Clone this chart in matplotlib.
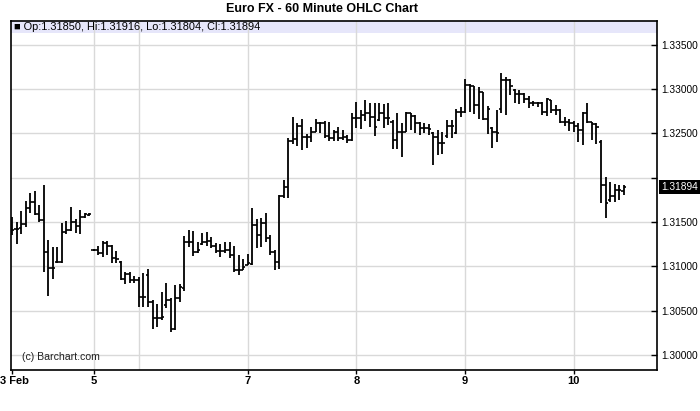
import matplotlib
matplotlib.use("Agg")
import matplotlib.pyplot as plt
from matplotlib.patches import Rectangle
from matplotlib.transforms import ScaledTranslation

plt.rcParams['font.family'] = ['Liberation Sans', 'DejaVu Sans']

title = "Euro FX - 60 Minute OHLC Chart"
header = "\u25A0 Op:1.31850, Hi:1.31916, Lo:1.31804, Cl:1.31894"
last_price = 1.31894
last_label = "1.31894"

# day boundaries, in bar index
day_labels = ["3 Feb", "5", "7", "8", "9", "10"]
day_label_bars = [0, 18, 52, 76, 100, 124]
day_grid_bars = [18, 28, 52, 76, 100, 124]

price_ticks = [1.300, 1.305, 1.310, 1.315, 1.320, 1.325, 1.330, 1.335]
price_labels = ["1.30000", "1.30500", "1.31000", "1.31500", "", "1.32500", "1.33000", "1.33500"]

# hourly bars
opens = [
    1.31421, 1.31421, 1.31432, 1.31477, 1.31658, 1.31725, 1.31590, 1.31522,
    1.31161, 1.30981, 1.31049, 1.31049, 1.31387, 1.31410, 1.31500, 1.31455,
    1.31556, 1.31579, 1.31184, 1.31184, 1.31150, 1.31263, 1.31229, 1.31094,
    1.31049, 1.30857, 1.30913, 1.30846, 1.30846, 1.30654, 1.30902, 1.30598,
    1.30417, 1.30417, 1.30564, 1.30620, 1.30293, 1.30643, 1.30755, 1.31274,
    1.31274, 1.31161, 1.31252, 1.31274, 1.31286, 1.31229, 1.31173, 1.31173,
    1.31184, 1.31128, 1.30958, 1.30958, 1.31015, 1.31026, 1.31466, 1.31353,
    1.31489, 1.31319, 1.31161, 1.31049, 1.31793, 1.31895, 1.32414, 1.32436,
    1.32583, 1.32459, 1.32459, 1.32515, 1.32617, 1.32617, 1.32470, 1.32447,
    1.32515, 1.32447, 1.32459, 1.32425, 1.32673, 1.32673, 1.32707, 1.32729,
    1.32684, 1.32650, 1.32729, 1.32673, 1.32628, 1.32425, 1.32515, 1.32515,
    1.32729, 1.32695, 1.32617, 1.32560, 1.32560, 1.32504, 1.32459, 1.32391,
    1.32470, 1.32583, 1.32504, 1.32741, 1.32741, 1.33045, 1.33034, 1.32820,
    1.32966, 1.32662, 1.32560, 1.32515, 1.32774, 1.33102, 1.33102, 1.32989,
    1.32944, 1.32944, 1.32887, 1.32842, 1.32842, 1.32842, 1.32741, 1.32876,
    1.32763, 1.32763, 1.32628, 1.32628, 1.32617, 1.32583, 1.32538, 1.32729,
    1.32628, 1.32605, 1.32402, 1.31917, 1.31748, 1.31793, 1.31861, 1.31850,
]
highs = [
    1.31556, 1.31500, 1.31624, 1.31737, 1.31827, 1.31850, 1.31692, 1.31917,
    1.31297, 1.31218, 1.31218, 1.31489, 1.31511, 1.31669, 1.31534, 1.31635,
    1.31601, 1.31601, 1.31195, 1.31229, 1.31286, 1.31286, 1.31240, 1.31173,
    1.31060, 1.30936, 1.30936, 1.30891, 1.30879, 1.30925, 1.30970, 1.30620,
    1.30575, 1.30710, 1.30812, 1.30643, 1.30789, 1.30800, 1.31342, 1.31410,
    1.31398, 1.31274, 1.31376, 1.31387, 1.31331, 1.31263, 1.31252, 1.31274,
    1.31274, 1.31229, 1.31128, 1.31082, 1.31139, 1.31658, 1.31534, 1.31545,
    1.31601, 1.31353, 1.31184, 1.31804, 1.31974, 1.32447, 1.32684, 1.32617,
    1.32662, 1.32492, 1.32571, 1.32662, 1.32628, 1.32639, 1.32628, 1.32538,
    1.32571, 1.32538, 1.32481, 1.32729, 1.32853, 1.32763, 1.32876, 1.32842,
    1.32842, 1.32842, 1.32831, 1.32842, 1.32650, 1.32729, 1.32617, 1.32741,
    1.32729, 1.32707, 1.32628, 1.32617, 1.32605, 1.32515, 1.32538, 1.32515,
    1.32650, 1.32650, 1.32774, 1.32797, 1.33113, 1.33056, 1.33034, 1.33023,
    1.32966, 1.32808, 1.32571, 1.32763, 1.33181, 1.33135, 1.33113, 1.33000,
    1.32989, 1.32955, 1.32921, 1.32865, 1.32853, 1.32853, 1.32899, 1.32876,
    1.32820, 1.32774, 1.32684, 1.32662, 1.32639, 1.32617, 1.32741, 1.32842,
    1.32628, 1.32617, 1.32425, 1.32007, 1.31951, 1.31928, 1.31917, 1.31916,
]
lows = [
    1.31353, 1.31252, 1.31364, 1.31444, 1.31601, 1.31579, 1.31500, 1.30936,
    1.30665, 1.30857, 1.31037, 1.31037, 1.31364, 1.31398, 1.31376, 1.31364,
    1.31545, 1.31568, 1.31173, 1.31128, 1.31105, 1.31128, 1.31037, 1.31037,
    1.30846, 1.30800, 1.30812, 1.30812, 1.30541, 1.30541, 1.30541, 1.30293,
    1.30318, 1.30394, 1.30530, 1.30259, 1.30282, 1.30598, 1.30721, 1.31218,
    1.31116, 1.31150, 1.31240, 1.31229, 1.31206, 1.31150, 1.31105, 1.31150,
    1.31094, 1.30936, 1.30902, 1.30958, 1.31015, 1.31015, 1.31206, 1.31218,
    1.31274, 1.31128, 1.30958, 1.30970, 1.31771, 1.31771, 1.32380, 1.32357,
    1.32312, 1.32335, 1.32402, 1.32515, 1.32504, 1.32447, 1.32414, 1.32414,
    1.32414, 1.32425, 1.32391, 1.32414, 1.32560, 1.32549, 1.32639, 1.32571,
    1.32470, 1.32639, 1.32560, 1.32594, 1.32323, 1.32323, 1.32233, 1.32515,
    1.32538, 1.32504, 1.32481, 1.32504, 1.32481, 1.32143, 1.32256, 1.32267,
    1.32447, 1.32447, 1.32492, 1.32684, 1.32729, 1.32741, 1.32718, 1.32662,
    1.32650, 1.32492, 1.32335, 1.32402, 1.32729, 1.32707, 1.32932, 1.32842,
    1.32831, 1.32842, 1.32786, 1.32808, 1.32797, 1.32707, 1.32695, 1.32729,
    1.32707, 1.32617, 1.32583, 1.32526, 1.32515, 1.32402, 1.32368, 1.32617,
    1.32425, 1.32380, 1.31714, 1.31545, 1.31725, 1.31725, 1.31748, 1.31804,
]
closes = [
    1.31410, 1.31421, 1.31477, 1.31658, 1.31725, 1.31590, 1.31522, 1.31161,
    1.30981, 1.30981, 1.31049, 1.31387, 1.31410, 1.31500, 1.31455, 1.31556,
    1.31590, 1.31590, 1.31184, 1.31150, 1.31263, 1.31229, 1.31094, 1.31082,
    1.30857, 1.30913, 1.30846, 1.30846, 1.30654, 1.30654, 1.30598, 1.30417,
    1.30417, 1.30428, 1.30620, 1.30293, 1.30643, 1.30767, 1.31274, 1.31274,
    1.31161, 1.31184, 1.31274, 1.31286, 1.31229, 1.31173, 1.31173, 1.31184,
    1.31128, 1.30958, 1.30958, 1.30992, 1.31037, 1.31466, 1.31353, 1.31489,
    1.31319, 1.31161, 1.31049, 1.31793, 1.31895, 1.32414, 1.32436, 1.32583,
    1.32459, 1.32459, 1.32515, 1.32617, 1.32617, 1.32470, 1.32447, 1.32515,
    1.32447, 1.32459, 1.32425, 1.32673, 1.32673, 1.32707, 1.32729, 1.32684,
    1.32571, 1.32729, 1.32673, 1.32673, 1.32425, 1.32515, 1.32515, 1.32729,
    1.32695, 1.32617, 1.32560, 1.32560, 1.32549, 1.32459, 1.32391, 1.32391,
    1.32583, 1.32583, 1.32741, 1.32741, 1.33045, 1.33034, 1.32820, 1.32966,
    1.32662, 1.32774, 1.32515, 1.32504, 1.33102, 1.33102, 1.33034, 1.32944,
    1.32944, 1.32887, 1.32842, 1.32842, 1.32842, 1.32741, 1.32887, 1.32763,
    1.32763, 1.32628, 1.32628, 1.32617, 1.32583, 1.32538, 1.32729, 1.32628,
    1.32605, 1.32571, 1.31917, 1.31714, 1.31793, 1.31861, 1.31861, 1.31894,
]

fig = plt.figure(figsize=(7, 4.11), dpi=100)
ax = fig.add_axes([11 / 700, 41 / 411, 645.7 / 700, 349 / 411])

bars = list(range(len(opens)))
tick_w = 0.5
ax.vlines(bars, lows, highs, color='black', lw=1.3, zorder=3)
ax.hlines(opens, [b - tick_w for b in bars], bars, color='black', lw=1.2, zorder=3)
ax.hlines(closes, bars, [b + tick_w for b in bars], color='black', lw=1.2, zorder=3)

ax.set_xlim(-0.25, 142.3)
ax.set_ylim(1.29830, 1.33767)

# grid
grid_c = '#d9d9d9'
for p in price_ticks:
    ax.axhline(p, color=grid_c, lw=1, zorder=1)
for d in day_grid_bars:
    ax.axvline(d, color=grid_c, lw=1, zorder=1)

# header band with the last bar's values
band_h = 12 / 349
ax.add_patch(Rectangle((0, 1 - band_h), 1, band_h, transform=ax.transAxes,
                       facecolor='#e6e6fa', edgecolor='none', zorder=0.5))
ax.text(0.004, 1 - band_h / 2, header, transform=ax.transAxes,
        va='center', ha='left', fontsize=7.9, color='black', zorder=4)

ax.text(0.017, 13 / 349, "(c) Barchart.com", transform=ax.transAxes,
        va='center', ha='left', fontsize=7.6, color='#222222')

# axes
for s in ax.spines.values():
    s.set_color('black')
    s.set_linewidth(1.2)

ax.yaxis.tick_right()
ax.set_yticks(price_ticks, price_labels)
ax.tick_params(axis='y', direction='in', length=4, width=1, pad=3,
               labelsize=7.3, colors='black')

ax.set_xticks(day_label_bars, day_labels)
ax.tick_params(axis='x', direction='out', length=3, width=1, pad=1.5,
               labelsize=8, colors='black')
for lbl in ax.get_xticklabels():
    lbl.set_fontweight('bold')
# keep the first day label inside the picture
first = ax.get_xticklabels()[0]
first.set_transform(first.get_transform() + ScaledTranslation(2 / 72, 0, fig.dpi_scale_trans))

# last price marker
ax.annotate(last_label, xy=(1.0, last_price), xycoords=('axes fraction', 'data'),
            xytext=(3, 0), textcoords='offset points', va='center', ha='left',
            fontsize=7.3, color='white',
            bbox=dict(boxstyle='square,pad=0.2', fc='black', ec='none'))

fig.text(322 / 700, 1 - 9 / 411, title, ha='center', va='center',
         fontsize=9, fontweight='bold')

fig.savefig('out.png', dpi=100)
